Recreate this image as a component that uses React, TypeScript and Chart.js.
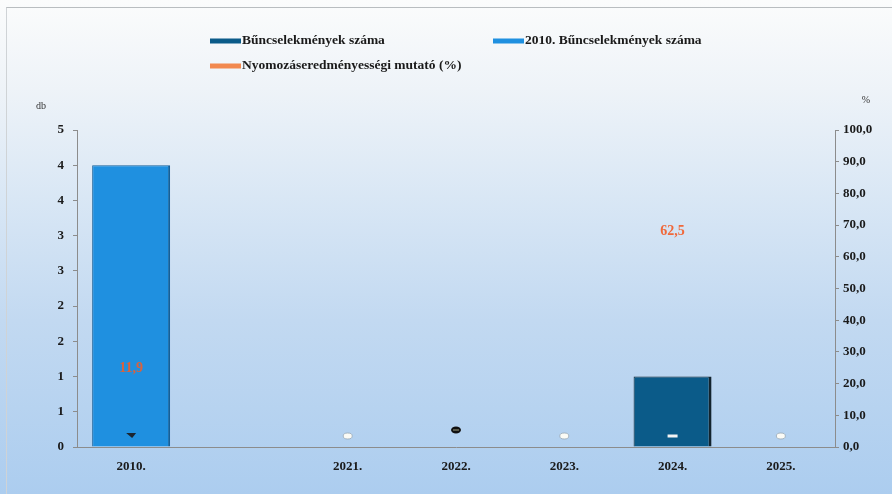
import React, { useEffect, useRef } from 'react';
import { Chart, registerables } from 'chart.js';

Chart.register(...registerables);

const categories = ['2010.', '', '2021.', '2022.', '2023.', '2024.', '2025.'];
const crimeCounts = [0, null, 0, 0, 0, 1, 0];
const crimeCounts2010 = [4, null, null, null, null, null, null];
const clearanceRate = [11.9, null, null, null, null, 62.5, null];
const clearanceLabels = ['11,9', '', '', '', '', '62,5', ''];
const baseMarks = ['tri', '', 'light', 'dark', 'light', 'dash', 'light'];

const leftMin = 0;
const leftMax = 4.5;
const leftStep = 0.5;
const rightMin = 0;
const rightMax = 100;
const rightStep = 10;

const SERIF = "'Liberation Serif', 'Times New Roman', serif";
const DARK = '#0b5b89';
const BLUE = '#1f90e0';
const ORANGE = '#f2894f';

const labelLift = [41, 0, 0, 0, 0, 17, 0];
const markLift = [12, 0, 11, 17, 11, 11, 11];

const decorPlugin = {
  id: 'decor',
  afterDraw(chart: any) {
    const ctx = chart.ctx;
    const xs = chart.scales.x;
    const ys = chart.scales.y;
    ctx.save();
    // legend
    const items = [
      { ds: 0, x: 210, y: 41 },
      { ds: 1, x: 493, y: 41 },
      { ds: 2, x: 210, y: 66 },
    ];
    ctx.font = `bold 13.5px ${SERIF}`;
    ctx.textBaseline = 'middle';
    ctx.textAlign = 'left';
    items.forEach((it) => {
      const ds = chart.data.datasets[it.ds];
      ctx.fillStyle = ds.legendColor;
      ctx.fillRect(it.x, it.y - 2.5, 31, 5);
      ctx.fillStyle = '#1a1a1a';
      ctx.fillText(ds.label, it.x + 32, it.y);
    });
    // axis unit titles
    ctx.font = `10px ${SERIF}`;
    ctx.fillStyle = '#333';
    ctx.textAlign = 'center';
    ctx.fillText('db', 41, 106);
    ctx.fillText('%', 866, 100);

    // base marks
    const y0 = ys.getPixelForValue(0);
    baseMarks.forEach((m, i) => {
      if (!m) return;
      const x = xs.getPixelForValue(i);
      const y = y0 - markLift[i];
      ctx.beginPath();
      if (m === 'light') {
        ctx.ellipse(x, y, 4.5, 3, 0, 0, Math.PI * 2);
        ctx.fillStyle = '#fbfbf6';
        ctx.fill();
        ctx.strokeStyle = '#9aa8b4';
        ctx.lineWidth = 0.8;
        ctx.stroke();
      } else if (m === 'dark') {
        ctx.ellipse(x, y, 5, 3.5, 0, 0, Math.PI * 2);
        ctx.fillStyle = '#111';
        ctx.fill();
        ctx.fillStyle = '#8a8a70';
        ctx.fillRect(x - 3, y - 0.6, 6, 1.2);
      } else if (m === 'dash') {
        ctx.fillStyle = '#f4f4f4';
        ctx.fillRect(x - 5, y - 1.5, 10, 3);
      } else if (m === 'tri') {
        ctx.moveTo(x - 5, y - 2);
        ctx.lineTo(x + 5, y - 2);
        ctx.lineTo(x + 1, y + 3);
        ctx.closePath();
        ctx.fillStyle = '#1b2530';
        ctx.fill();
      }
    });

    // clearance-rate data labels
    const meta = chart.getDatasetMeta(2);
    ctx.font = `bold 14px ${SERIF}`;
    ctx.textAlign = 'center';
    ctx.textBaseline = 'middle';
    meta.data.forEach((pt: any, i: number) => {
      const txt = clearanceLabels[i];
      if (!txt || clearanceRate[i] == null) return;
      ctx.fillStyle = i === 0 ? '#d9623e' : '#f0683a';
      ctx.fillText(txt, pt.x, pt.y - labelLift[i]);
    });
    ctx.restore();
  },
};

export default function App() {
  const ref = useRef<HTMLCanvasElement | null>(null);
  useEffect(() => {
    document.body.style.margin = '0';
    const canvas = ref.current;
    if (!canvas) return;
    const tickFont = { family: SERIF, size: 13, weight: 'bold' as const };
    const chart = new Chart(canvas, {
      type: 'bar',
      data: {
        labels: categories,
        datasets: [
          {
            type: 'bar',
            label: 'Bűncselekmények száma',
            data: crimeCounts,
            backgroundColor: DARK,
            borderColor: '#13242e',
            borderWidth: { top: 1, left: 1, right: 3, bottom: 0 },
            borderSkipped: false,
            grouped: false,
            barPercentage: 0.72,
            categoryPercentage: 1,
            yAxisID: 'y',
            legendColor: DARK,
            order: 1,
          } as any,
          {
            type: 'bar',
            label: '2010. Bűncselekmények száma',
            data: crimeCounts2010,
            backgroundColor: BLUE,
            borderColor: '#14609a',
            borderWidth: { top: 1, left: 1, right: 2, bottom: 0 },
            borderSkipped: false,
            grouped: false,
            barPercentage: 0.72,
            categoryPercentage: 1,
            yAxisID: 'y',
            legendColor: BLUE,
            order: 2,
          } as any,
          {
            type: 'line',
            label: 'Nyomozáseredményességi mutató (%)',
            data: clearanceRate,
            borderColor: ORANGE,
            backgroundColor: ORANGE,
            showLine: false,
            pointRadius: 0,
            yAxisID: 'y1',
            legendColor: ORANGE,
            order: 0,
          } as any,
        ],
      },
      options: {
        responsive: false,
        animation: false,
        layout: { padding: { left: 0, right: 0, top: 130, bottom: 17 } },
        plugins: {
          legend: { display: false },
          tooltip: { enabled: false },
          title: { display: false },
        },
        scales: {
          x: {
            grid: { display: false },
            border: { display: true, color: '#8c8c8c', width: 1 },
            ticks: { font: tickFont, color: '#1a1a1a', padding: 4, maxRotation: 0, autoSkip: false },
            afterFit: (s: any) => {
              s.height = 30;
            },
          },
          y: {
            position: 'left',
            min: leftMin,
            max: leftMax,
            grid: { drawOnChartArea: false, drawTicks: true, tickLength: 4, color: '#8c8c8c' },
            border: { display: true, color: '#8c8c8c', width: 1 },
            ticks: {
              stepSize: leftStep,
              font: { family: SERIF, size: 13, weight: 'bold' as const },
              color: '#1a1a1a',
              padding: 9,
              callback: (v: any) => String(Math.round(Number(v))),
            },
            afterFit: (s: any) => {
              s.width = 77;
            },
          },
          y1: {
            position: 'right',
            min: rightMin,
            max: rightMax,
            grid: { drawOnChartArea: false, drawTicks: true, tickLength: 4, color: '#8c8c8c' },
            border: { display: true, color: '#8c8c8c', width: 1 },
            ticks: {
              stepSize: rightStep,
              font: { family: SERIF, size: 13, weight: 'bold' as const },
              color: '#1a1a1a',
              padding: 4,
              callback: (v: any) => Number(v).toFixed(1).replace('.', ','),
            },
            afterFit: (s: any) => {
              s.width = 57;
            },
          },
        },
      } as any,
      plugins: [decorPlugin],
    });
    return () => chart.destroy();
  }, []);

  return (
    <div
      style={{
        position: 'fixed',
        left: 0,
        top: 0,
        width: 892,
        height: 494,
        overflow: 'hidden',
        background: 'linear-gradient(to bottom, #fbfcfc 0%, #eef3f8 18%, #d9e7f5 40%, #c2d9f1 65%, #accdef 100%)',
      }}
    >
      <div
        style={{
          position: 'absolute',
          left: 6,
          top: 7,
          width: 900,
          height: 500,
          borderLeft: '1px solid #cfd3d6',
          borderTop: '1px solid #b9bdc0',
        }}
      />
      <canvas ref={ref} width={892} height={494} style={{ position: 'absolute', left: 0, top: 0 }} />
    </div>
  );
}
